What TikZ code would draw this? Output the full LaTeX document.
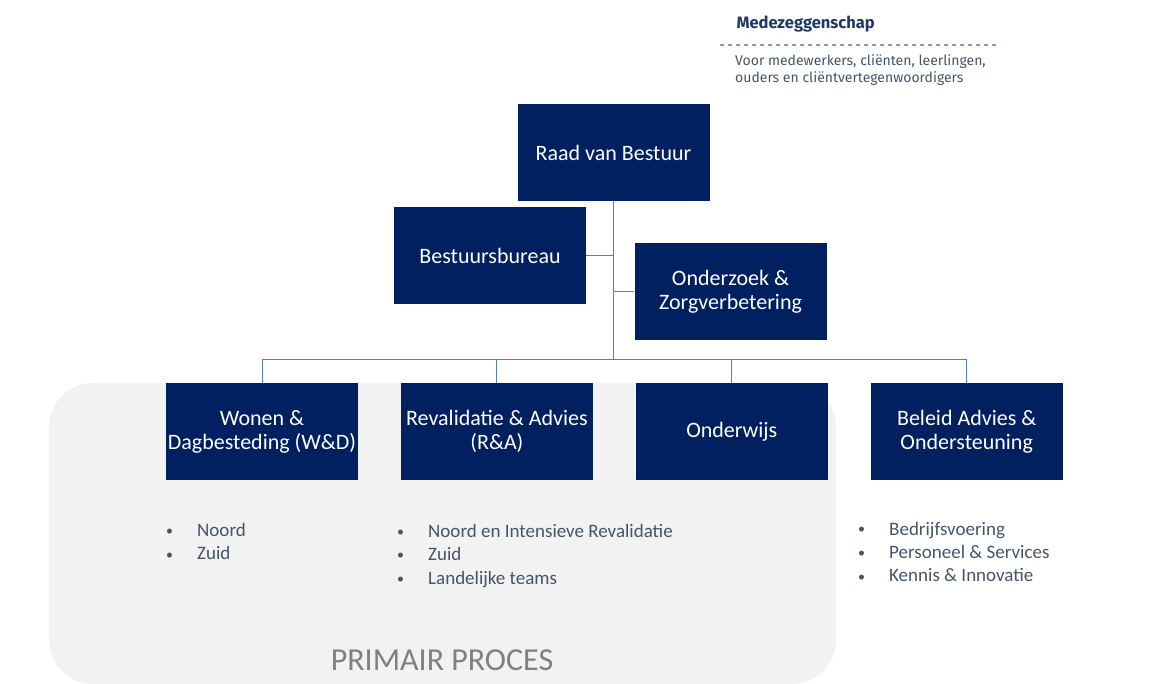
\documentclass[tikz,border=0pt]{standalone}
\usepackage{fontspec}
\setmainfont{Carlito}
\newfontfamily\mzfont{Fira Sans}
\usetikzlibrary{positioning}

\definecolor{navy}{HTML}{002060}
\definecolor{linkblue}{HTML}{4F81BD}
\definecolor{slate}{HTML}{44546A}
\definecolor{panelgrey}{HTML}{F2F2F2}
\definecolor{mzblue}{HTML}{1F3864}

\newcommand{\bul}[1]{\makebox[31pt][l]{\raisebox{1pt}{\fontsize{14}{14}\selectfont\textbullet}}#1}

\tikzset{
  unit/.style = {fill=navy, text=white, minimum width=192pt, minimum height=97pt,
                 align=center, inner sep=0pt, font=\fontsize{22}{24}\selectfont},
  link/.style = {draw=linkblue, line width=1pt},
  sublist/.style = {anchor=base west, align=left, text=slate, inner sep=0pt,
                    font=\fontsize{19}{23.5}\selectfont}
}

\begin{document}
\begin{tikzpicture}[x=1pt, y=-1pt]
\useasboundingbox (0,0) rectangle (1163,684);

% panel primair proces
\fill[panelgrey, rounded corners=44pt] (49,383) rectangle (836,684);
\node (pp) [text=gray, font=\fontsize{32}{36}\selectfont] at (442,660) {PRIMAIR PROCES};

% medezeggenschap
\node (mz) [anchor=west, text=mzblue, font=\mzfont\bfseries\fontsize{16.5}{20}\selectfont] at (733,24) {Medezeggenschap};
\coordinate (dl) at (720,45);
\coordinate (dr) at (1000,45);
\draw [linkblue!80, line width=1.3pt, dash pattern=on 4pt off 4pt] (dl) -- (dr);
\node (mzsub) [anchor=north west, align=left, text=slate, inner sep=0pt,
  font=\mzfont\fontsize{14}{17.5}\selectfont] at (735,54)
  {Voor medewerkers, cliënten, leerlingen,\\ouders en cliëntvertegenwoordigers};

% top
\node (rvb) [unit] at (613.5,152.5) {Raad van Bestuur};
\node (bb) [unit] at (490,256) {Bestuursbureau};
\node (oz) [unit] at (730.5,292) {Onderzoek \&\\Zorgverbetering};

% bottom row
\node (wd) [unit] at (262,431.5) {Wonen \&\\Dagbesteding (W\&D)};
\node (ra) [unit, right = 42.5pt of wd] {Revalidatie \& Advies\\(R\&A)};
\node (ow) [unit, right = 42.5pt of ra] {Onderwijs};
\node (bao) [unit, right = 42.5pt of ow] {Beleid Advies \&\\Ondersteuning};

\coordinate (bus) at (613.5,360);

\draw [link] (rvb.south) -- (bus);
\draw [link] (bb.east) -- (bb.east -| rvb.south);
\draw [link] (oz.west) -- (oz.west -| rvb.south);
\draw [link] (wd.north) |- (bus);
\draw [link] (ra.north) |- (bus);
\draw [link] (ow.north) |- (bus);
\draw [link] (bao.north) |- (bus);

% lists (anchored on the baseline of the last line)
\node (wdlist) [sublist] at (166,560) {\bul{Noord}\\\bul{Zuid}};
\node (ralist) [sublist] at (397,584) {\bul{Noord en Intensieve Revalidatie}\\\bul{Zuid}\\\bul{Landelijke teams}};
\node (baolist) [sublist] at (858,582) {\bul{Bedrijfsvoering}\\\bul{Personeel \& Services}\\\bul{Kennis \& Innovatie}};
\end{tikzpicture}
\end{document}
